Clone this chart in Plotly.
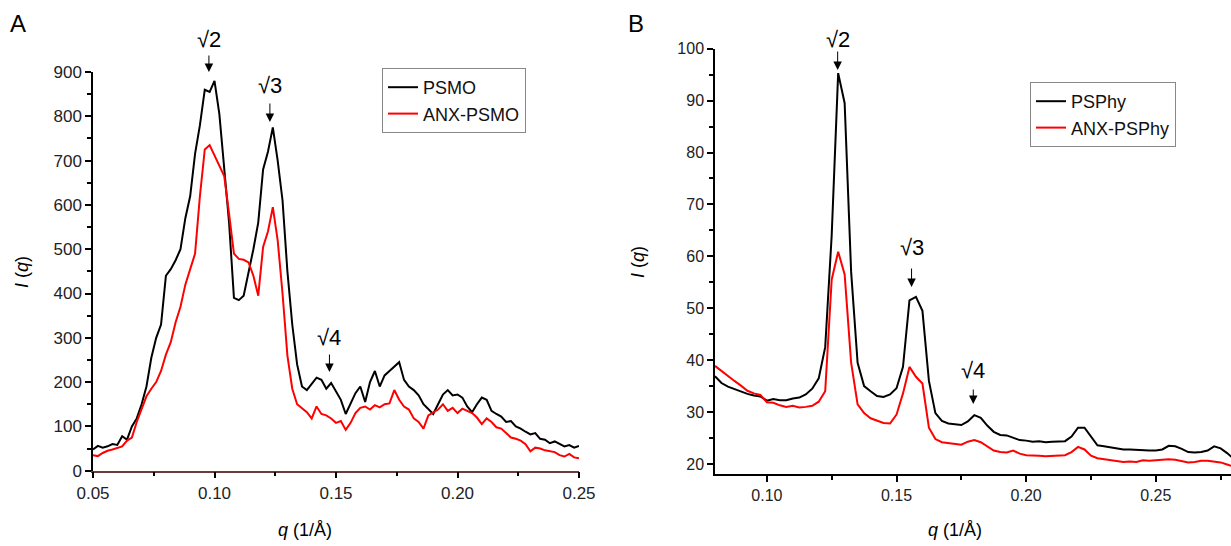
import numpy as np
import plotly.graph_objects as go

# ---- panel A data (PSMO), q grid 0.050 .. 0.250 step 0.002
q_a = np.round(np.arange(0.050, 0.2501, 0.002), 3)
psmo = [48, 56, 52, 55, 60, 58, 78, 70, 100, 118,
        150, 190, 255, 300, 330, 440, 455, 475, 500, 570,
        620, 715, 780, 860, 855, 880, 805, 690, 560, 390,
        385, 395, 445, 500, 560, 680, 720, 775, 700, 610,
        450, 330, 240, 190, 182, 195, 210, 205, 185, 198,
        178, 160, 128, 150, 175, 190, 155, 200, 225, 190,
        215, 225, 235, 245, 205, 190, 182, 170, 150, 140,
        128, 150, 172, 182, 170, 172, 165, 145, 132, 150,
        165, 160, 135, 128, 122, 110, 112, 100, 95, 88,
        82, 85, 72, 70, 62, 66, 60, 55, 58, 52,
        56]
anx_psmo = [35, 33, 40, 45, 48, 52, 55, 68, 75, 110,
            140, 168, 185, 200, 225, 262, 290, 335, 370, 420,
            455, 490, 620, 725, 735, 712, 690, 665, 580, 490,
            478, 476, 470, 440, 395, 505, 540, 595, 520, 400,
            260, 185, 150, 140, 132, 118, 145, 128, 125, 118,
            108, 112, 92, 108, 130, 142, 145, 138, 148, 143,
            150, 152, 182, 160, 145, 138, 118, 110, 95, 125,
            132, 138, 150, 135, 142, 130, 140, 135, 130, 120,
            105, 118, 110, 98, 95, 85, 75, 72, 68, 60,
            44, 52, 50, 46, 44, 42, 35, 32, 38, 30,
            28]

# ---- panel B data (PSPhy), q grid 0.080 .. 0.280 step 0.0025
q_b = np.round(np.arange(0.080, 0.2801, 0.0025), 4)
psphy = [36.9, 35.6, 34.9, 34.4, 34.0, 33.5, 33.2, 33.0, 32.2, 32.5,
         32.3, 32.3, 32.6, 32.8, 33.4, 34.5, 36.5, 42.5, 64.0, 95.3,
         89.5, 57.0, 39.5, 35.0, 34.0, 33.1, 32.9, 33.4, 34.6, 38.7,
         51.5, 52.2, 49.5, 36.0, 29.8, 28.3, 27.8, 27.6, 27.5, 28.2,
         29.4, 28.9, 27.4, 26.2, 25.6, 25.5, 25.0, 24.6, 24.5, 24.3,
         24.4, 24.2, 24.3, 24.3, 24.4, 25.3, 27.0, 27.0, 25.3, 23.6,
         23.4, 23.2, 23.1, 22.8, 22.8, 22.7, 22.7, 22.6, 22.6, 22.8,
         23.5, 23.4, 22.9, 22.3, 22.2, 22.3, 22.6, 23.4, 23.0, 22.1,
         21.0]
anx_psphy = [38.9, 37.9, 37.0, 36.0, 35.1, 34.1, 33.6, 33.3, 31.9, 31.8,
             31.3, 31.0, 31.2, 30.9, 31.0, 31.2, 32.0, 34.0, 55.5, 60.9,
             56.5, 39.5, 31.5, 29.8, 28.8, 28.3, 27.9, 27.8, 29.5, 33.6,
             38.7, 36.8, 35.5, 27.0, 24.8, 24.2, 24.0, 23.8, 23.7, 24.3,
             24.6, 24.2, 23.4, 22.6, 22.3, 22.2, 22.6, 22.0, 21.7, 21.7,
             21.6, 21.5, 21.6, 21.6, 21.7, 22.3, 23.3, 22.8, 21.6, 21.1,
             20.9, 20.8, 20.6, 20.4, 20.5, 20.4, 20.7, 20.6, 20.7, 20.8,
             20.9, 20.8, 20.5, 20.3, 20.4, 20.6, 20.6, 20.5, 20.3, 19.9,
             19.5]

# peak labels: (text, q, text y px, tail y px, tip y px)
peaks_a = [("√2", 0.0977, 40, 54, 72), ("√3", 0.1228, 85, 102, 122), ("√4", 0.1473, 337, 353, 372)]
peaks_b = [("√2", 0.1273, 40, 50, 70), ("√3", 0.1558, 248, 267, 287), ("√4", 0.1796, 370, 388, 404)]

W, H = 1231, 546
FONT = "Liberation Sans, Arial, sans-serif"

fig = go.Figure()
fig.add_trace(go.Scatter(x=q_a, y=psmo, mode="lines", name="PSMO",
                         line=dict(color="black", width=2), legend="legend"))
fig.add_trace(go.Scatter(x=q_a, y=anx_psmo, mode="lines", name="ANX-PSMO",
                         line=dict(color="#ff0000", width=2), legend="legend"))
fig.add_trace(go.Scatter(x=q_b, y=psphy, mode="lines", name="PSPhy",
                         line=dict(color="black", width=2), xaxis="x2", yaxis="y2", legend="legend2"))
fig.add_trace(go.Scatter(x=q_b, y=anx_psphy, mode="lines", name="ANX-PSPhy",
                         line=dict(color="#ff0000", width=2), xaxis="x2", yaxis="y2", legend="legend2"))

axis_common = dict(showgrid=False, zeroline=False, showline=True, linewidth=1.5,
                   linecolor="black", ticks="outside", ticklen=6, tickwidth=1.5,
                   tickcolor="black", automargin=False)
minor_common = dict(ticks="outside", ticklen=4, tickwidth=1.5, tickcolor="black")


def py2paper(py):
    return 1 - py / H


fig.update_layout(
    width=W, height=H,
    margin=dict(l=0, r=0, t=0, b=0),
    paper_bgcolor="white", plot_bgcolor="white",
    font=dict(family=FONT, color="#111"),
    xaxis=dict(axis_common, domain=[93 / W, 579 / W], range=[0.05, 0.25],
               tick0=0.05, dtick=0.05, tickformat=".2f", linecolor="#6e3b3b",
               tickfont=dict(family=FONT, size=17, color="#222"),
               minor=dict(minor_common, dtick=0.025)),
    yaxis=dict(axis_common, domain=[py2paper(470.7), py2paper(72)], range=[0, 900],
               dtick=100, tickfont=dict(family=FONT, size=17, color="#222"),
               minor=dict(minor_common, dtick=50)),
    xaxis2=dict(axis_common, domain=[715 / W, 1.0], range=[0.08, 0.279], anchor="y2",
                tick0=0.1, dtick=0.05, tickformat=".2f",
                tickfont=dict(family=FONT, size=16, color="#222"),
                minor=dict(minor_common, tick0=0.075, dtick=0.05)),
    yaxis2=dict(axis_common, domain=[py2paper(474), py2paper(48.7)], range=[18.07, 100],
                anchor="x2", tick0=20, dtick=10,
                tickfont=dict(family=FONT, size=16, color="#222"),
                minor=dict(minor_common, dtick=5)),
    legend=dict(x=382 / W, y=py2paper(68), xanchor="left", yanchor="top",
                bordercolor="#888", borderwidth=1, bgcolor="white",
                font=dict(family=FONT, size=18, color="#111"),
                tracegroupgap=0, itemwidth=30),
    legend2=dict(x=1030 / W, y=py2paper(82), xanchor="left", yanchor="top",
                 bordercolor="#888", borderwidth=1, bgcolor="white",
                 font=dict(family=FONT, size=18, color="#111"),
                 tracegroupgap=0, itemwidth=30),
    showlegend=True,
)

ann = []
# panel letters
ann.append(dict(text="A", x=18 / W, y=py2paper(24), xref="paper", yref="paper",
                xanchor="center", yanchor="middle", showarrow=False,
                font=dict(family=FONT, size=24, color="black")))
ann.append(dict(text="B", x=636 / W, y=py2paper(24), xref="paper", yref="paper",
                xanchor="center", yanchor="middle", showarrow=False,
                font=dict(family=FONT, size=24, color="black")))
# axis titles
for xc, yc in [(22, 272), (638, 262)]:
    ann.append(dict(text="<i>I</i> (<i>q</i>)", x=xc / W, y=py2paper(yc), xref="paper",
                    yref="paper", xanchor="center", yanchor="middle", showarrow=False,
                    textangle=-90, font=dict(family=FONT, size=18, color="black")))
for xc, yc in [(305, 530), (955, 530)]:
    ann.append(dict(text="<i>q</i> (1/Å)", x=xc / W, y=py2paper(yc), xref="paper",
                    yref="paper", xanchor="center", yanchor="middle", showarrow=False,
                    font=dict(family=FONT, size=18, color="black")))

# peak markers
for peaks, xr in [(peaks_a, "x"), (peaks_b, "x2")]:
    for txt, qv, ty, tail, tip in peaks:
        ann.append(dict(text=txt, x=qv, y=py2paper(ty), xref=xr, yref="paper",
                        xanchor="center", yanchor="middle", showarrow=False,
                        font=dict(family=FONT, size=22, color="black")))
        ann.append(dict(text="", x=qv, y=py2paper(tip), xref=xr, yref="paper",
                        ax=0, ay=-(tip - tail), showarrow=True, arrowhead=2,
                        arrowsize=1.7, arrowwidth=1, arrowcolor="black"))

fig.update_layout(annotations=ann)
fig.write_html("out.html", config={"displayModeBar": False},
               post_script="document.body.style.margin='0';")
